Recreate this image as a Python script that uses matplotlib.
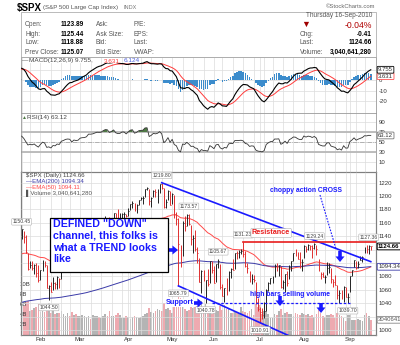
import numpy as np
import pandas as pd
import matplotlib
matplotlib.use("Agg")
import matplotlib.pyplot as plt
from matplotlib.patches import Rectangle
from matplotlib.transforms import blended_transform_factory

plt.rcParams["font.family"] = ["Liberation Sans", "DejaVu Sans"]

# ---------------------------------
# DAILY DATA  $SPX  19-Jan-2010 .. 16-Sep-2010
# ---------------------------------

holidays = ["2010-02-15", "2010-04-02", "2010-05-31", "2010-07-05", "2010-09-06"]

closes = [
    # Jan
    1150.23, 1138.04, 1116.48, 1091.76, 1096.78, 1092.17, 1097.50, 1084.53, 1073.87,
    # Feb
    1089.19, 1103.32, 1097.28, 1063.11, 1066.19, 1056.74, 1070.52, 1068.13, 1078.47, 1075.51,
    1094.87, 1099.51, 1106.75, 1109.17, 1108.01, 1094.60, 1105.24, 1102.94, 1104.49,
    # Mar
    1115.71, 1118.31, 1118.79, 1122.97, 1138.70, 1138.50, 1140.45, 1145.61, 1150.24, 1149.99,
    1150.51, 1159.46, 1166.21, 1165.83, 1159.90, 1165.81, 1174.17, 1167.72, 1165.73, 1166.59,
    1173.22, 1173.27, 1169.43,
    # Apr
    1178.10, 1187.44, 1189.44, 1182.45, 1186.44, 1194.37, 1196.48, 1197.30, 1210.65, 1211.67,
    1192.13, 1197.52, 1207.17, 1205.94, 1208.67, 1217.28, 1212.05, 1183.71, 1191.36, 1206.78,
    1186.69,
    # May
    1202.26, 1173.60, 1165.87, 1128.15, 1110.88, 1159.73, 1155.79, 1171.67, 1157.44, 1135.68,
    1136.94, 1120.80, 1115.05, 1071.59, 1087.69, 1073.65, 1074.03, 1067.95, 1103.06, 1089.41,
    # Jun
    1070.71, 1098.38, 1102.83, 1064.88, 1050.47, 1062.00, 1055.69, 1086.84, 1091.60, 1089.63,
    1115.23, 1114.61, 1116.04, 1117.51, 1113.20, 1095.31, 1092.04, 1073.69, 1076.76, 1074.57,
    1041.24, 1030.71,
    # Jul
    1027.37, 1022.58, 1028.06, 1060.27, 1070.25, 1077.96, 1078.75, 1095.34, 1095.17, 1096.48,
    1064.88, 1071.25, 1083.48, 1069.59, 1093.67, 1102.66, 1115.01, 1113.84, 1106.13, 1101.53,
    1101.60,
    # Aug
    1125.86, 1120.46, 1127.24, 1125.81, 1121.64, 1127.79, 1121.06, 1089.47, 1083.61, 1079.25,
    1079.38, 1092.54, 1094.16, 1075.63, 1071.69, 1067.36, 1051.87, 1055.33, 1047.22, 1064.59,
    1048.92, 1049.33,
    # Sep
    1080.29, 1090.10, 1104.51, 1091.84, 1098.87, 1104.18, 1109.55, 1121.90, 1121.10, 1125.07,
    1124.66,
]

highs = [
    1150.45, 1147.77, 1141.58, 1115.49, 1102.97, 1103.69, 1098.85, 1100.22, 1096.45,
    1089.38, 1104.73, 1102.72, 1097.25, 1067.13, 1071.20, 1079.28, 1071.72, 1080.04, 1077.81,
    1095.67, 1100.14, 1108.24, 1112.42, 1112.29, 1108.58, 1106.42, 1103.50, 1107.24,
    1116.11, 1123.46, 1125.64, 1123.73, 1139.38, 1141.05, 1145.37, 1148.26, 1150.24, 1153.41,
    1150.51, 1160.28, 1169.84, 1167.09, 1169.20, 1167.82, 1174.72, 1174.17, 1180.69, 1173.93,
    1174.85, 1175.67, 1173.75,
    1181.43, 1187.73, 1191.80, 1189.60, 1188.58, 1194.66, 1199.20, 1199.98, 1210.65, 1213.92,
    1210.17, 1197.87, 1208.58, 1210.99, 1210.27, 1217.28, 1219.80, 1212.05, 1195.05, 1209.36,
    1207.99,
    1205.13, 1201.47, 1175.95, 1167.58, 1127.17, 1163.03, 1170.03, 1173.03, 1173.57, 1157.19,
    1141.82, 1148.66, 1124.27, 1107.34, 1090.16, 1089.95, 1074.75, 1090.75, 1103.52, 1102.56,
    1094.77, 1098.42, 1105.67, 1098.56, 1069.31, 1063.15, 1077.74, 1087.85, 1092.25, 1105.87,
    1115.59, 1117.72, 1118.74, 1121.01, 1131.23, 1118.50, 1099.64, 1088.16, 1083.11, 1082.60,
    1071.62, 1048.08,
    1033.58, 1032.95, 1042.50, 1060.89, 1071.25, 1078.16, 1080.78, 1099.08, 1099.46, 1096.52,
    1095.12, 1074.70, 1083.94, 1088.01, 1097.50, 1103.11, 1115.01, 1120.95, 1116.11, 1115.90,
    1106.44,
    1127.30, 1125.44, 1128.75, 1126.56, 1126.46, 1129.24, 1127.16, 1105.78, 1086.72, 1086.25,
    1082.22, 1101.73, 1099.77, 1092.84, 1075.63, 1081.58, 1067.36, 1059.38, 1059.87, 1065.21,
    1064.44, 1055.14,
    1081.30, 1090.10, 1105.10, 1103.11, 1103.26, 1110.88, 1110.57, 1123.53, 1127.14, 1127.36,
    1125.44,
]

lows = [
    1135.77, 1129.25, 1114.84, 1090.18, 1092.63, 1089.86, 1083.11, 1078.46, 1071.59,
    1073.89, 1087.96, 1093.97, 1062.78, 1044.50, 1056.51, 1060.06, 1060.81, 1060.59, 1062.97,
    1075.64, 1091.82, 1097.66, 1100.80, 1105.38, 1092.18, 1095.50, 1086.02, 1097.56,
    1105.31, 1116.51, 1116.58, 1116.66, 1125.36, 1136.77, 1134.90, 1140.09, 1138.99, 1146.97,
    1141.64, 1150.35, 1159.94, 1161.16, 1155.33, 1152.88, 1163.83, 1163.31, 1165.09, 1161.48,
    1167.12, 1166.48, 1169.19,
    1170.69, 1178.71, 1182.77, 1177.25, 1175.12, 1186.02, 1194.71, 1188.17, 1198.69, 1208.50,
    1186.77, 1183.68, 1199.04, 1198.85, 1190.19, 1205.10, 1211.07, 1181.62, 1181.81, 1193.38,
    1186.32,
    1188.58, 1167.49, 1157.15, 1065.79, 1094.15, 1110.88, 1147.70, 1155.78, 1156.14, 1126.14,
    1114.63, 1117.20, 1100.66, 1071.58, 1055.90, 1072.70, 1040.78, 1065.59, 1069.50, 1084.78,
    1069.89, 1072.03, 1091.81, 1060.50, 1050.37, 1042.17, 1052.25, 1058.28, 1077.12, 1089.30,
    1091.52, 1105.87, 1107.13, 1113.93, 1108.24, 1094.18, 1085.31, 1071.19, 1067.89, 1071.45,
    1038.38, 1028.33,
    1010.91, 1015.93, 1018.35, 1028.70, 1058.24, 1068.30, 1070.45, 1078.84, 1087.68, 1080.53,
    1063.16, 1061.11, 1056.88, 1065.25, 1075.60, 1087.88, 1103.16, 1109.78, 1105.54, 1092.82,
    1088.01,
    1107.66, 1116.76, 1119.46, 1118.81, 1107.17, 1120.91, 1111.58, 1088.56, 1076.69, 1079.00,
    1069.62, 1082.75, 1085.76, 1070.66, 1063.91, 1067.08, 1046.68, 1039.83, 1046.65, 1041.50,
    1048.79, 1039.70,
    1056.82, 1080.39, 1094.63, 1091.15, 1092.41, 1104.18, 1101.51, 1115.61, 1115.58, 1113.90,
    1118.88,
]

# volume in billions of shares
volume_b = [
    4.8, 5.8, 6.6, 6.9, 4.9, 5.0, 5.4, 5.6, 6.3,
    4.6, 4.9, 4.6, 6.1, 6.4, 4.4, 5.0, 4.2, 4.4, 4.5, 4.8, 4.2, 3.9, 4.4, 3.8, 4.6, 4.0, 4.3, 3.9,
    3.8, 4.0, 3.9, 3.6, 3.8, 3.3, 4.1, 3.9, 3.8, 3.6, 3.5, 3.9, 4.3, 3.8, 4.9, 3.8, 3.9, 4.1,
    4.4, 4.0, 3.5, 3.4, 3.8,
    3.6, 3.3, 3.6, 3.9, 3.7, 3.4, 3.6, 3.9, 4.3, 4.5, 5.4, 4.6, 4.4, 4.8, 5.2, 5.0, 4.8, 6.4,
    5.2, 5.4, 5.1,
    4.5, 5.9, 5.6, 7.6, 7.4, 6.6, 5.2, 4.8, 5.0, 5.8, 5.4, 5.6, 5.8, 7.0, 6.9, 4.9, 6.3, 5.4,
    5.2, 4.2,
    5.3, 5.0, 4.8, 5.8, 5.1, 6.0, 5.3, 5.2, 4.4, 4.4, 4.6, 4.4, 4.5, 5.6, 4.8, 4.6, 4.5, 4.9,
    5.2, 4.1, 6.3, 5.7,
    6.0, 4.2, 4.8, 4.9, 4.3, 3.4, 3.4, 4.3, 4.1, 4.8, 5.3, 4.1, 4.5, 4.6, 4.2, 4.3, 3.9, 4.4,
    4.3, 4.1, 4.4,
    4.3, 4.0, 4.2, 3.9, 4.0, 3.6, 4.2, 5.0, 4.5, 3.9, 3.7, 4.1, 4.0, 4.3, 4.0, 3.5, 4.4, 4.1,
    3.9, 3.5, 2.9, 4.0,
    4.0, 3.1, 3.1, 3.1, 3.2, 3.0, 2.9, 4.0, 4.4, 3.9, 3.04,
]

prev_close = 1136.03  # 15-Jan-2010

# indicator values carried in from before the window
ema200_start = 1040.0
ema50_start = 1112.0
ema12_start = 1138.0
ema26_start = 1127.0
signal_start = 10.0
rsi_gain_start = 7.0
rsi_loss_start = 5.0

# swing points that get a price tag
high_tags = ["2010-01-19", "2010-04-26", "2010-05-13", "2010-06-03", "2010-06-21",
             "2010-08-09", "2010-09-15"]
low_tags = ["2010-02-05", "2010-05-06", "2010-05-25", "2010-07-01", "2010-08-31"]

# trend lines
upper_line_dates = ["2010-04-26", "2010-09-16"]
upper_line_prices = [1219.80, 1102.0]
lower_line_dates = ["2010-05-06", "2010-07-01"]
lower_line_prices = [1065.79, 1010.91]
resistance_start = "2010-06-21"
resistance_price = 1131.23
support_dates = ["2010-05-28", "2010-09-01"]
support_price = 1040.0

# ---------------------------------
# INDICATORS
# ---------------------------------

dates = pd.bdate_range("2010-01-19", "2010-09-16").drop(pd.to_datetime(holidays))
assert len(dates) == len(closes) == len(highs) == len(lows) == len(volume_b)
c = np.array(closes)
idx = np.arange(len(c))
pos = {d.strftime("%Y-%m-%d"): i for i, d in enumerate(dates)}


def ema(values, span, start):
    k = 2.0 / (span + 1)
    out, e = [], start
    for v in values:
        e += k * (v - e)
        out.append(e)
    return np.array(out)


ema200 = ema(c, 200, ema200_start)
ema50 = ema(c, 50, ema50_start)
macd = ema(c, 12, ema12_start) - ema(c, 26, ema26_start)
signal = ema(macd, 9, signal_start)
hist = macd - signal

change = np.diff(np.concatenate([[prev_close], c]))
g, l = rsi_gain_start, rsi_loss_start
rsi = []
for d in change:
    g = (g * 13 + max(d, 0)) / 14
    l = (l * 13 + max(-d, 0)) / 14
    rsi.append(100 - 100 / (1 + g / l))
rsi = np.array(rsi)

up = change >= 0

# ---------------------------------
# LAYOUT (pixel boxes on a 400x345 canvas)
# ---------------------------------

W, H = 400, 345
BLUE = "#1a1aff"
RED = "#e81c1c"
fig = plt.figure(figsize=(W / 100, H / 100), dpi=100)


def px_box(x0, y0, x1, y1):
    return [x0 / W, 1 - y1 / H, (x1 - x0) / W, (y1 - y0) / H]


def ftext(x, y, s, **kw):
    kw.setdefault("fontsize", 4.7)
    kw.setdefault("va", "center")
    return fig.text(x / W, 1 - y / H, s, **kw)


ax_macd = fig.add_axes(px_box(21, 57, 376, 113))
ax_rsi = fig.add_axes(px_box(21, 113, 376, 172), sharex=ax_macd)
ax_px = fig.add_axes(px_box(21, 172, 376, 335), sharex=ax_macd)
ax_vol = ax_px.twinx()
ax_px.set_zorder(ax_vol.get_zorder() + 1)
ax_px.patch.set_visible(False)

month_idx = [i for i in range(1, len(dates)) if dates[i].month != dates[i - 1].month]
week_idx = [i for i in range(len(dates)) if i == 0 or dates[i].weekday() <= dates[i - 1].weekday()]

for ax in (ax_macd, ax_rsi, ax_px):
    ax.set_xlim(-0.3, 169.5)
    ax.set_xticks(month_idx)
    ax.set_xticks(week_idx, minor=True)
    ax.grid(True, which="both", color="#dcdcdc", lw=0.5)
    ax.set_axisbelow(True)
    ax.yaxis.tick_right()
    ax.tick_params(axis="both", which="both", length=0, labelsize=4.3,
                   colors="#333333", pad=2)
    for sp in ax.spines.values():
        sp.set_color("#999999")
        sp.set_linewidth(0.6)
ax_macd.tick_params(labelbottom=False)
ax_rsi.tick_params(labelbottom=False)
ax_px.set_xticklabels([dates[i].strftime("%b") for i in month_idx])
ax_px.tick_params(axis="x", pad=1.5)

# ---------------------------------
# MACD PANEL
# ---------------------------------

ax_macd.bar(idx, hist, width=0.75, color="#3c8ccc", zorder=2)
ax_macd.plot(idx, signal, color="#ff3b3b", lw=0.7, zorder=3)
ax_macd.plot(idx, macd, color="black", lw=0.8, zorder=4)
ax_macd.set_ylim(-31.4, 21.9)
ax_macd.set_yticks([10, 0, -10, -20])
ax_macd.set_yticklabels(["", "0", "-10", "-20"])

box_kw = dict(xycoords=("axes fraction", "data"), xytext=(1.5, 0),
              textcoords="offset points", va="center", ha="left",
              fontsize=4.3, annotation_clip=False)
ax_macd.annotate("3.631", xy=(1, 3.631), color="#333",
                 bbox=dict(boxstyle="round,pad=0.15", fc="white", ec="#ff5050", lw=0.6), **box_kw)
ax_macd.annotate("9.755", xy=(1, 9.755), color="#333",
                 bbox=dict(boxstyle="round,pad=0.15", fc="white", ec="black", lw=0.6), **box_kw)

title_bg = dict(fc="white", ec="none", pad=0.3)
ftext(22, 60.5, "\u2014", color="#444", fontsize=4.6)
ftext(29, 60.5, "MACD(12,26,9) 9.755,", color="#444", fontsize=4.6, bbox=title_bg)
ftext(104, 60.5, "3.631,", color="#ff3b3b", fontsize=4.6, bbox=title_bg)
ftext(124, 60.5, "6.124", color="#5060e0", fontsize=4.6, bbox=title_bg)

# ---------------------------------
# RSI PANEL
# ---------------------------------

ax_rsi.axhline(70, color="#b8b8b8", lw=1.3, zorder=1)
ax_rsi.axhline(30, color="#b8b8b8", lw=1.3, zorder=1)
ax_rsi.axhline(50, color="#9a9a9a", lw=0.5, ls="-.", zorder=1)
ax_rsi.fill_between(idx, 70, rsi, where=rsi > 70, color="#4f7a45", lw=0, zorder=2)
ax_rsi.plot(idx, rsi, color="#333333", lw=0.6, zorder=3)
ax_rsi.set_ylim(-10, 108)
ax_rsi.set_yticks([90, 70, 50, 30, 10])
ax_rsi.annotate("63.12", xy=(1, 63.12), color="#333",
                bbox=dict(boxstyle="round,pad=0.15", fc="white", ec="#777", lw=0.6), **box_kw)
ftext(22, 117.5, "\u25b2", color="#4f7a45", fontsize=3.6)
ftext(27, 117.5, "RSI(14) 63.12", color="#444", fontsize=4.6)

# ---------------------------------
# PRICE + VOLUME PANEL
# ---------------------------------

vol_colors = np.where(up, "#b4b4b4", "#eeaab0")
ax_vol.bar(idx, volume_b, width=0.8, color=vol_colors, zorder=1)
ax_vol.set_ylim(0, 32.6)
ax_vol.set_yticks([])
vol_tf = blended_transform_factory(ax_vol.transAxes, ax_vol.transData)
for v in [2, 4, 6, 8, 10]:
    ax_vol.text(-0.003, v, f"{v}B", transform=vol_tf, fontsize=4.3, color="#333",
                va="center", ha="left")
ax_vol.annotate("3040641280", xy=(1, 3.04), color="#555",
                bbox=dict(boxstyle="round,pad=0.15", fc="white", ec="#888", lw=0.6),
                **box_kw)

bar_colors = np.where(up, "#222222", "#e03030")
ax_px.vlines(idx, lows, highs, colors=bar_colors, lw=0.7, zorder=3)
ax_px.hlines(c, idx, idx + 0.45, colors=bar_colors, lw=0.7, zorder=3)
ax_px.plot(idx, ema50, color="#ff4a4a", lw=0.7, zorder=2)
ax_px.plot(idx, ema200, color="#3a3aa8", lw=0.7, zorder=2)
ax_px.set_ylim(992.5, 1235.8)
ax_px.set_yticks(np.arange(1000, 1221, 20))
ax_px.set_yticklabels(["" if t in (1020, 1100, 1120) else str(t)
                       for t in np.arange(1000, 1221, 20)])

ax_px.annotate("1094.34", xy=(1, 1094.34), color="#333",
               bbox=dict(boxstyle="round,pad=0.15", fc="white", ec="#3a3aa8", lw=0.6), **box_kw)
ax_px.annotate("1124.66", xy=(1, c[-1]), color="black", fontweight="bold",
               bbox=dict(boxstyle="round,pad=0.15", fc="white", ec="black", lw=0.7), **box_kw)

tag_kw = dict(textcoords="offset points", ha="center", fontsize=3.7, color="#444",
              zorder=6, annotation_clip=False,
              bbox=dict(boxstyle="round,pad=0.15", fc="white", ec="#b0b0b0", lw=0.4))
for d in high_tags:
    i = pos[d]
    ax_px.annotate(f"{highs[i]:.2f}", xy=(i, highs[i]), xytext=(0, 3.5), va="bottom", **tag_kw)
for d in low_tags:
    i = pos[d]
    ax_px.annotate(f"{lows[i]:.2f}", xy=(i, lows[i]), xytext=(0, -3.5), va="top", **tag_kw)

# channel lines
ux = [pos[d] for d in upper_line_dates]
ax_px.plot(ux, upper_line_prices, color=BLUE, lw=1.2, zorder=4)
lx = [pos[d] for d in lower_line_dates]
slope = (lower_line_prices[1] - lower_line_prices[0]) / (lx[1] - lx[0])
lx_end = 150
ax_px.plot([lx[0], lx_end],
           [lower_line_prices[0], lower_line_prices[0] + slope * (lx_end - lx[0])],
           color=BLUE, lw=1.2, zorder=4)
ax_px.plot([pos[resistance_start], 169.5], [resistance_price, resistance_price],
           color=RED, lw=1.2, zorder=4)
ax_px.plot([pos[d] for d in support_dates], [support_price, support_price],
           color=BLUE, lw=0.9, ls=(0, (2, 1.5)), zorder=4)

# panel legend
ftext(26, 175.5, "$SPX (Daily) 1124.66", color="#444", fontsize=4.4)
ftext(26, 181.5, "\u2014EMA(200) 1094.34", color="#3a3aa8", fontsize=4.4)
ftext(26, 187.5, "\u2014EMA(50) 1094.11", color="#ff4a4a", fontsize=4.4)
ftext(26, 193.5, "\u258cVolume 3,040,641,280", color="#555", fontsize=4.4)

# ---------------------------------
# NOTES
# ---------------------------------

fig.add_artist(Rectangle((50 / W, 1 - 272 / H), 118 / W, 54 / H, transform=fig.transFigure,
                         fc="white", ec="black", lw=0.9, zorder=5))
ftext(53, 219, 'DEFINED "DOWN"\nchannel, this folks is\nwhat a TREND looks\nlike',
      va="top", fontsize=7.7, fontweight="bold", color=BLUE, linespacing=1.22, zorder=6)

ftext(270, 191, "choppy action CROSS", fontsize=4.9, fontweight="bold", color=BLUE)
ftext(250, 294, "high bars selling volume", fontsize=4.9, fontweight="bold", color=BLUE)
ftext(166, 303, "Support", fontsize=5.2, fontweight="bold", color=BLUE, zorder=6,
      bbox=dict(fc="white", ec="none", pad=0.2))
ftext(252, 233, "Resistance", fontsize=5.2, fontweight="bold", color=RED, zorder=6,
      bbox=dict(boxstyle="round,pad=0.15", fc="white", ec="#b0b0b0", lw=0.4))

fig.add_artist(plt.Line2D([320 / W, 336 / W], [1 - 195 / H, 1 - 249 / H],
                          color=BLUE, lw=0.8, ls=(0, (1.5, 1.2)), zorder=6))


def block_arrow(x0, y0, x1, y1):
    ax_px.annotate("", xy=(x1, H - y1), xytext=(x0, H - y0), xycoords="figure pixels",
                   textcoords="figure pixels", annotation_clip=False, zorder=7,
                   arrowprops=dict(fc=BLUE, ec="none", width=2.6, headwidth=6.5,
                                   headlength=4, shrink=0))


block_arrow(169, 250, 178, 250)
block_arrow(193, 303, 203, 303)
block_arrow(280, 296, 280, 306)
block_arrow(321, 303, 321, 313)
block_arrow(340, 251, 340, 262)

# ---------------------------------
# HEADER AND QUOTE BOX
# ---------------------------------

ftext(17, 7.5, "$SPX", fontsize=7, fontweight="bold", color="black")
ftext(43, 7.5, "(S&P 500 Large Cap Index)", fontsize=4.4, color="#555")
ftext(123, 7.5, "INDX", fontsize=4.0, color="#777")
ftext(375, 6, "\u00a9StockCharts.com", fontsize=4.2, color="#666", ha="right")

fig.add_artist(Rectangle((21 / W, 1 - 57 / H), 355 / W, 45 / H, transform=fig.transFigure,
                         fill=False, ec="#b0b0b0", lw=0.6))

rows = [25, 34, 43, 52]
for y, lab, val in zip(rows, ["Open:", "High:", "Low:", "Prev Close:"],
                       ["1123.89", "1125.44", "1118.88", "1125.07"]):
    ftext(25, y, lab, color="#555")
    ftext(61, y, val, color="black", fontweight="bold")
for y, lab in zip(rows, ["Ask:", "Ask Size:", "Bid:", "Bid Size:"]):
    ftext(96, y, lab, color="#555")
for y, lab in zip(rows, ["P/E:", "EPS:", "Last:", "VWAP:"]):
    ftext(134, y, lab, color="#555")

ftext(372, 15.5, "Thursday 16-Sep-2010", ha="right", color="#555")
ftext(301, 24.5, "\u25bc", color="#a00000", fontsize=6.5)
ftext(372, 25, "-0.04%", ha="right", color="#b00000", fontsize=6.2)
ftext(300, 34, "Chg:", color="#555")
ftext(372, 34, "-0.41", ha="right", color="black", fontweight="bold")
ftext(300, 43, "Last:", color="#555")
ftext(372, 43, "1124.66", ha="right", color="black", fontweight="bold")
ftext(300, 52, "Volume:", color="#555")
ftext(372, 52, "3,040,641,280", ha="right", color="black", fontweight="bold")

fig.savefig("out.png", dpi=100, facecolor="white")
